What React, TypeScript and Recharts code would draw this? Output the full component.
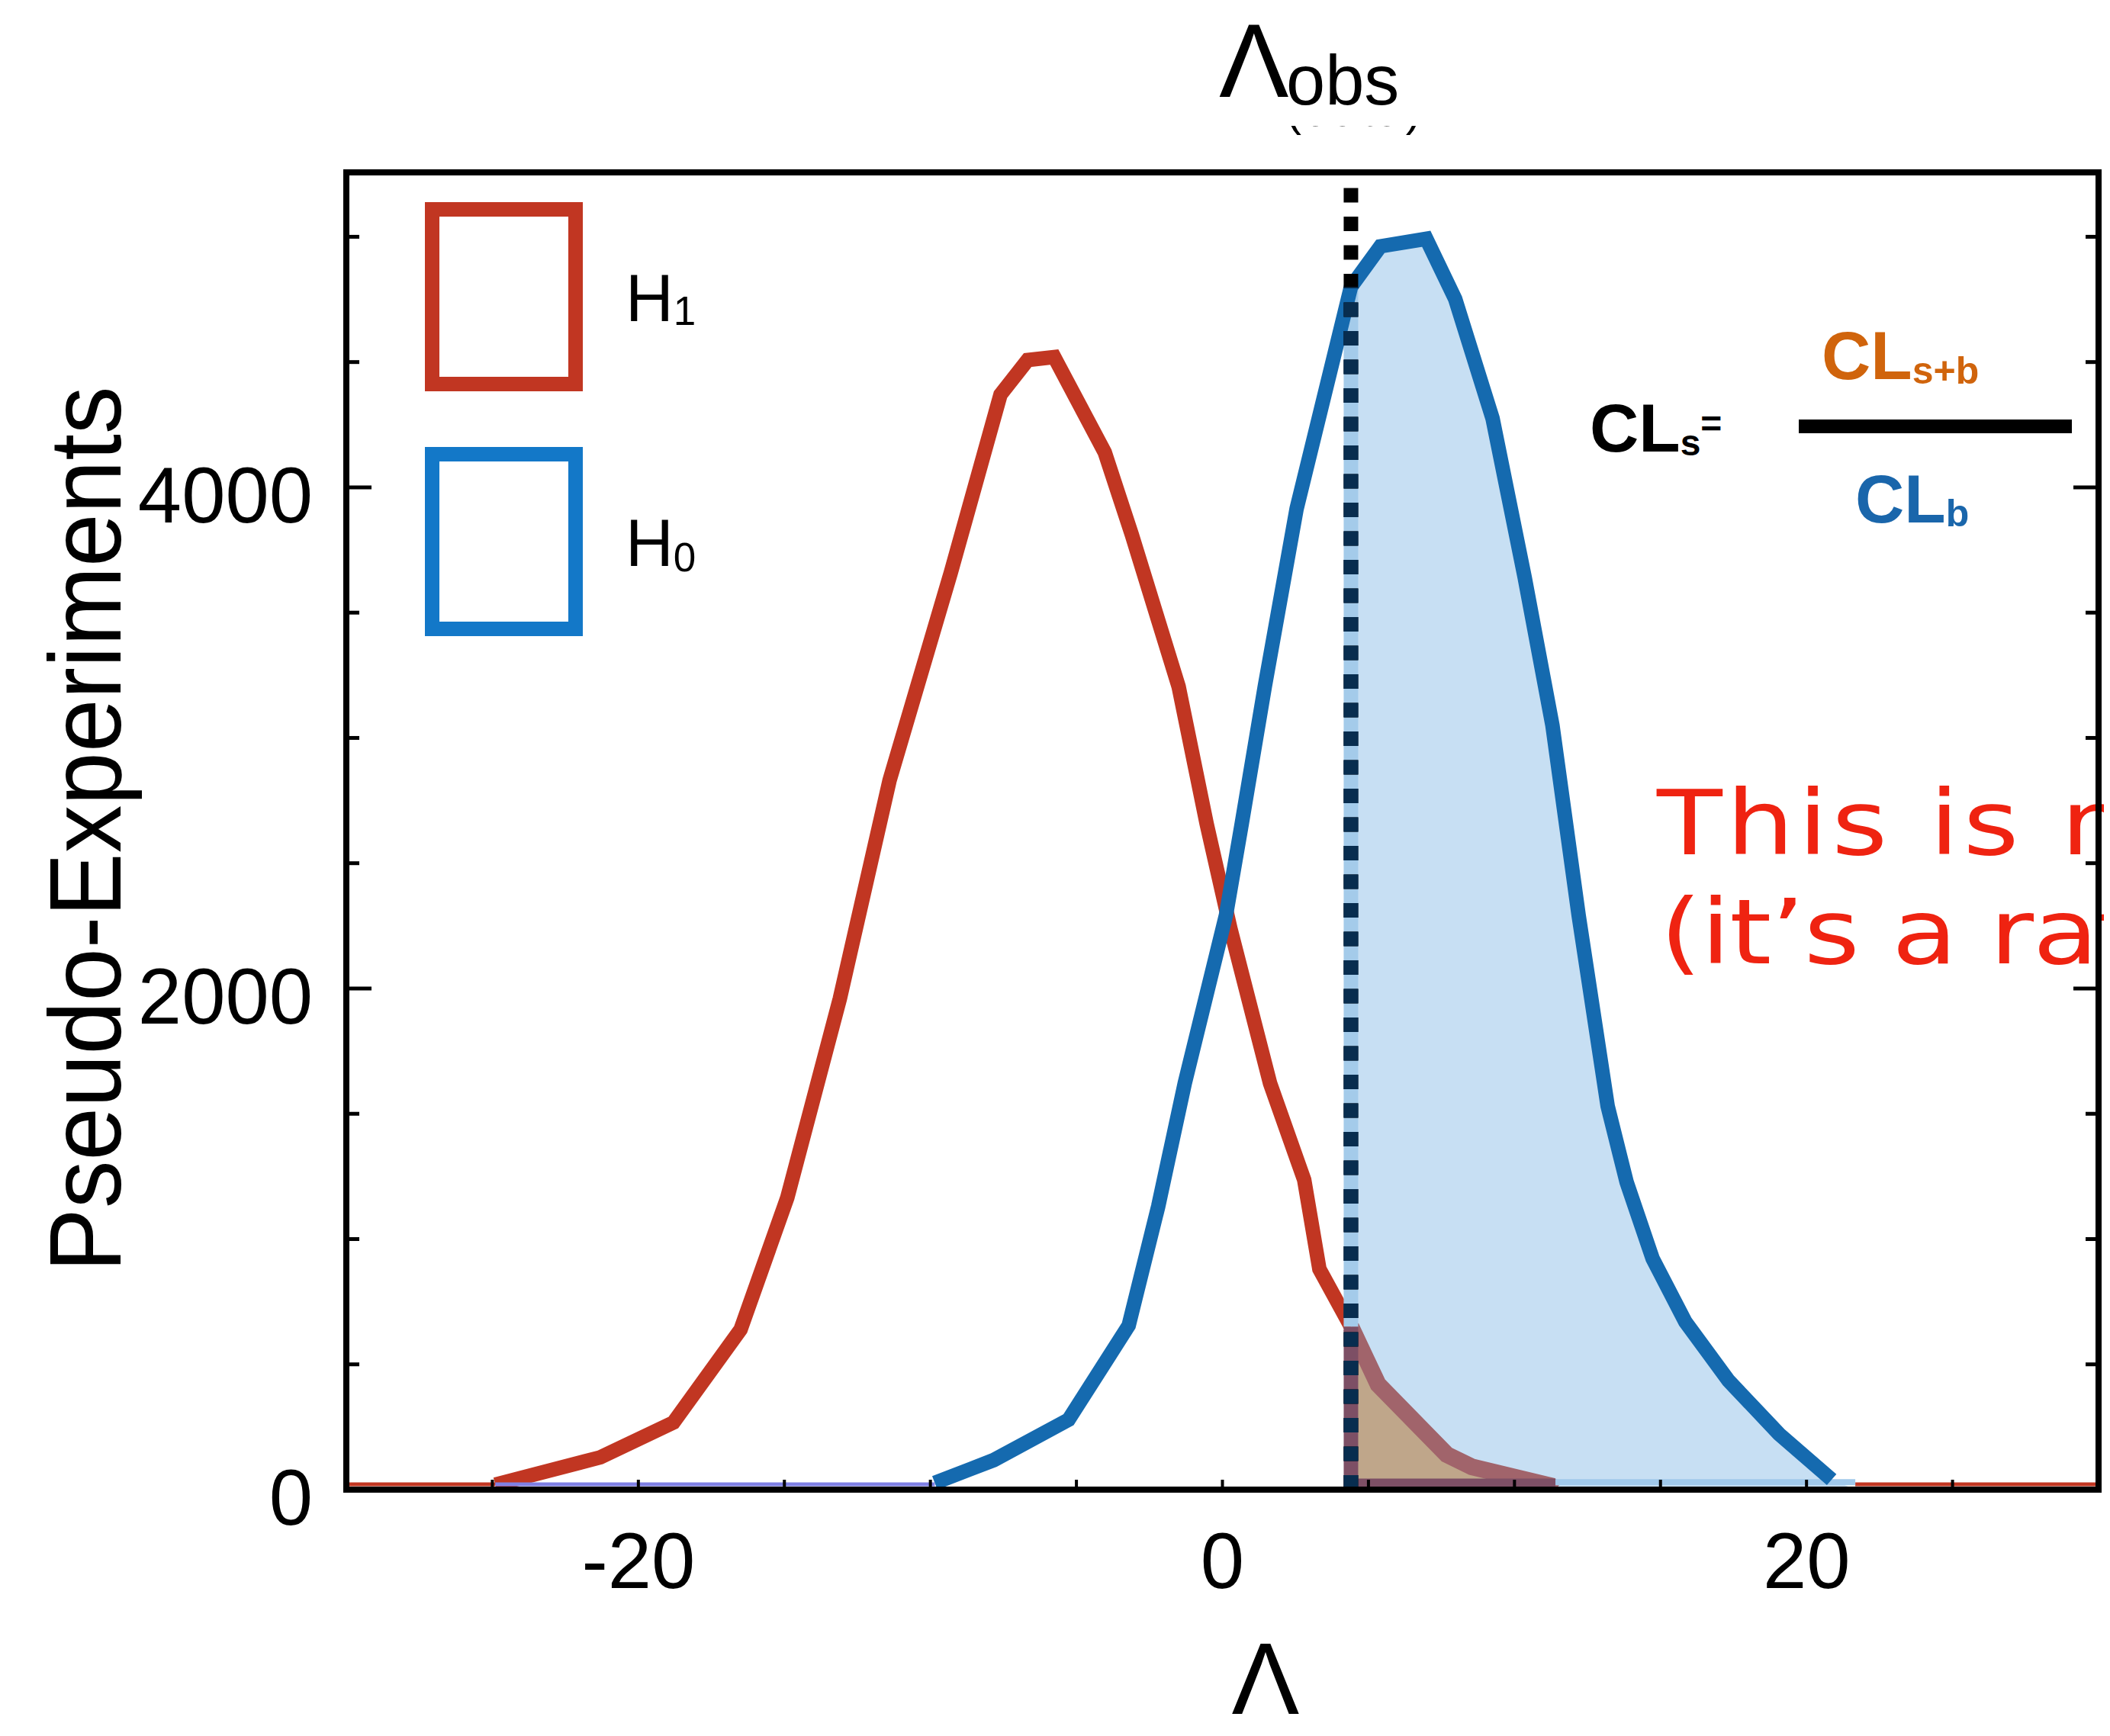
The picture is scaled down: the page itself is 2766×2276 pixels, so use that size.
import React from 'react';
import { ComposedChart, Area, Line, XAxis, YAxis, ReferenceLine, Legend } from 'recharts';

// ---------- data ----------
const LAMBDA_OBS = 4.4;
const X_DOMAIN: [number, number] = [-30, 30];
const Y_MAX = 5257;
const X_TICKS = [-25, -20, -15, -10, -5, 0, 5, 10, 15, 20, 25];
const X_TICK_LABELS = [-20, 0, 20];
const Y_TICKS = [0, 500, 1000, 1500, 2000, 2500, 3000, 3500, 4000, 4500, 5000];
const Y_TICK_LABELS = [0, 2000, 4000];

// H1 (signal + background) pseudo-experiment distribution
const H1_X = [-24.9, -21.3, -18.8, -16.5, -14.9, -13.1, -11.4, -9.3, -7.6, -6.67, -5.76, -4.03, -3.1, -1.5, -0.54, 0.27, 1.63, 2.8, 3.32, 4.4, 5.33, 7.68, 8.54, 11.25, 11.4];
const H1_Y = [20, 129, 268, 639, 1165, 1960, 2830, 3660, 4370, 4508, 4520, 4140, 3810, 3205, 2657, 2240, 1622, 1236, 880, 650, 420, 140, 91, 15, 0];

// H0 (background only) pseudo-experiment distribution
const H0_X = [-9.85, -7.83, -5.27, -3.21, -2.2, -1.29, 0.12, 0.66, 1.45, 2.54, 4.4, 5.41, 6.98, 7.97, 9.25, 10.35, 11.3, 12.2, 13.19, 13.84, 14.73, 15.85, 17.33, 19.06, 20.86];
const H0_Y = [27, 118, 279, 655, 1130, 1622, 2292, 2657, 3205, 3915, 4800, 4962, 4992, 4752, 4275, 3640, 3050, 2290, 1531, 1227, 922, 670, 435, 222, 40];

const CLB_END = 21.67; // where the CLb shading reaches zero
const H1_ZERO_LEFT = [-30, -24.9];
const H0_ZERO = [-24.9, -9.85];
const H1_ZERO_RIGHT = [21.67, 30];

const LEGEND_ITEMS = [
  { label: 'H', sub: '1', color: '#c13622' },
  { label: 'H', sub: '0', color: '#1378c8' },
];

// ---------- derived tables ----------
const h1 = H1_X.map((x, i) => ({ x, y: H1_Y[i] }));
const h0 = H0_X.map((x, i) => ({ x, y: H0_Y[i] }));
const clb = [...h0.filter((p) => p.x >= LAMBDA_OBS), { x: CLB_END, y: 0 }];
const clsb = h1.filter((p) => p.x >= LAMBDA_OBS);
const h1AtObs = (h1.find((p) => p.x === LAMBDA_OBS) || { y: 0 }).y;
const h0AtObs = (h0.find((p) => p.x === LAMBDA_OBS) || { y: 0 }).y;

const ZERO_LEVEL = 21; // visual offset so the zero-level lines sit on the axis
const BAND_LEVEL = 18;
const pair = (xs: number[], y: number) => xs.map((x) => ({ x, y }));

const clsbBottom = pair([LAMBDA_OBS, clsb[clsb.length - 1].x], BAND_LEVEL);
const clbBottom = pair([clsb[clsb.length - 1].x, CLB_END], 30);
const stripBlue = [{ x: LAMBDA_OBS, y: h1AtObs }, { x: LAMBDA_OBS, y: h0AtObs }];
const stripRed = [{ x: LAMBDA_OBS, y: 0 }, { x: LAMBDA_OBS, y: h1AtObs }];
const dotted = [{ x: LAMBDA_OBS, y: 0 }, { x: LAMBDA_OBS, y: Y_MAX }];
const dottedInFill = [{ x: LAMBDA_OBS, y: 0 }, { x: LAMBDA_OBS, y: h0AtObs }];

const FONT = '"Liberation Sans", Arial, Helvetica, sans-serif';
const RED = '#c13622';
const BLUE = '#156aaf';
const LINE_W = 19;

// ---------- ticks ----------
const BottomTick = (props: any) => {
  const { x, y, payload } = props;
  const v = payload.value;
  return (
    <g>
      <line x1={x} x2={x} y1={y} y2={y - 13} stroke="#000" strokeWidth={4} />
      {X_TICK_LABELS.includes(v) && (
        <text x={x} y={y + 129} textAnchor="middle" fontSize={103} fontFamily={FONT} fill="#000">
          {v}
        </text>
      )}
    </g>
  );
};

const LeftTick = (props: any) => {
  const { x, y, payload } = props;
  const v = payload.value;
  const major = Y_TICK_LABELS.includes(v);
  return (
    <g>
      <line x1={x} x2={x + (major ? 33 : 17)} y1={y} y2={y} stroke="#000" strokeWidth={5} />
      {major && (
        <text x={x - 44} y={y + 46} textAnchor="end" fontSize={103} fontFamily={FONT} fill="#000">
          {v}
        </text>
      )}
    </g>
  );
};

const RightTick = (props: any) => {
  const { x, y, payload } = props;
  const major = Y_TICK_LABELS.includes(payload.value);
  return <line x1={x} x2={x - (major ? 33 : 17)} y1={y} y2={y} stroke="#000" strokeWidth={5} />;
};

const LegendBoxes = () => (
  <svg width={440} height={610} viewBox="540 250 440 610" style={{ display: 'block' }}>
    {LEGEND_ITEMS.map((it, i) => (
      <g key={i}>
        <rect x={566.5} y={274.5 + i * 321} width={188} height={229} fill="none" stroke={it.color} strokeWidth={19} />
        <text x={820} y={421 + i * 321} fontSize={87} fontFamily={FONT} fill="#000">
          {it.label}
          <tspan fontSize={53} dy={i === 0 ? 5 : 7}>{it.sub}</tspan>
        </text>
      </g>
    ))}
  </svg>
);

const common = { isAnimationActive: false, dot: false, activeDot: false, legendType: 'none' as const, type: 'linear' as const, dataKey: 'y' };

export default function App() {
  return (
    <div style={{ position: 'relative', width: 2758, height: 2268, overflow: 'hidden', background: '#fff' }}>
      <svg
        width={2758}
        height={2268}
        viewBox="8 8 2758 2268"
        style={{ position: 'absolute', left: 0, top: 0 }}
      >
        {/* Lambda_obs label */}
        <text x={1598} y={127} fontSize={137} fontFamily={FONT} fill="#000">Λ</text>
        <text x={1686} y={137} fontSize={92} fontFamily={FONT} fill="#000">obs</text>
        <clipPath id="fragClip">
          <rect x={1680} y={165} width={200} height={14} />
        </clipPath>
        <text clipPath="url(#fragClip)" x={1686} y={165} fontSize={60} letterSpacing={4} fontFamily={FONT} fill="#000">(data)</text>

        {/* CLs formula */}
        <text x={2084} y={592} fontSize={89} fontWeight="bold" fontFamily={FONT} fill="#000">
          CL<tspan fontSize={48} dy={5}>s</tspan><tspan fontSize={48} dy={-25}>=</tspan>
        </text>
        <text x={2388} y={497} fontSize={89} fontWeight="bold" fontFamily={FONT} fill="#d0640c">
          CL<tspan fontSize={50} dy={6}>s+b</tspan>
        </text>
        <rect x={2358} y={550} width={358} height={18} fill="#000" />
        <text x={2432} y={685} fontSize={89} fontWeight="bold" fontFamily={FONT} fill="#1a66ab">
          CL<tspan fontSize={50} dy={5}>b</tspan>
        </text>

        {/* red remark */}
        <text transform="translate(2172,1120) scale(1.2,1)" fontSize={117} letterSpacing={4.3} fontFamily='"DejaVu Sans", sans-serif' fill="#ef2311">
          This is not a probability
        </text>
        <text transform="translate(2176,1263) scale(1.2,1)" fontSize={117} letterSpacing={-1} fontFamily='"DejaVu Sans", sans-serif' fill="#ef2311">
          (it’s a ratio of probabilities)
        </text>

        {/* axis titles */}
        <text
          transform="translate(158,1087) rotate(-90)"
          textAnchor="middle"
          fontSize={133}
          textLength={1161}
          lengthAdjust="spacingAndGlyphs"
          fontFamily={FONT}
          fill="#000"
        >
          Pseudo-Experiments
        </text>
        <text x={1659} y={2247} textAnchor="middle" fontSize={133} fontFamily={FONT} fill="#000">Λ</text>
      </svg>

      <ComposedChart width={2758} height={2268} margin={{ top: 218, right: 5, bottom: 0, left: 0 }}>
        <XAxis
          dataKey="x"
          type="number"
          domain={X_DOMAIN}
          allowDataOverflow
          ticks={X_TICKS}
          interval={0}
          height={323}
          tickSize={0}
          tickMargin={0}
          tickLine={false}
          axisLine={{ stroke: '#000', strokeWidth: 8, strokeLinecap: 'square' }}
          tick={<BottomTick />}
        />
        <YAxis
          type="number"
          domain={[0, Y_MAX]}
          allowDataOverflow
          ticks={Y_TICKS}
          interval={0}
          width={446}
          tickSize={0}
          tickMargin={0}
          tickLine={false}
          axisLine={{ stroke: '#000', strokeWidth: 8, strokeLinecap: 'square' }}
          tick={<LeftTick />}
        />
        <YAxis
          yAxisId="right"
          orientation="right"
          type="number"
          domain={[0, Y_MAX]}
          allowDataOverflow
          ticks={Y_TICKS}
          interval={0}
          width={10}
          tickSize={0}
          tickMargin={0}
          tickLine={false}
          axisLine={{ stroke: '#000', strokeWidth: 8, strokeLinecap: 'square' }}
          tick={<RightTick />}
        />
        <ReferenceLine y={Y_MAX} stroke="#000" strokeWidth={8} ifOverflow="visible" />

        {/* H1 curve (under the CLb shading) */}
        <Area {...common} data={h1} stroke={RED} strokeWidth={LINE_W} fill="none" />
        {/* CLb shading */}
        <Area {...common} data={clb} stroke="none" fill="#c7dff3" fillOpacity={1} />
        {/* CLs+b shading */}
        <Area {...common} data={clsb} stroke="#a1646b" strokeWidth={22} fill="#bfa68a" fillOpacity={1} />

        {/* zero-level histogram segments */}
        <Line {...common} data={pair(H1_ZERO_LEFT, ZERO_LEVEL)} stroke={RED} strokeWidth={5} />
        <Line {...common} data={pair(H0_ZERO, ZERO_LEVEL)} stroke="#7f80e4" strokeWidth={5} />
        <Line {...common} data={pair(H1_ZERO_RIGHT, ZERO_LEVEL)} stroke={RED} strokeWidth={5} />

        <Line {...common} data={clbBottom} stroke="#a0c8ea" strokeWidth={8} />
        <Line {...common} data={clsbBottom} stroke="#7d4f65" strokeWidth={17} />
        <Line {...common} data={stripBlue} stroke="#a4cbea" strokeWidth={19} />
        <Line {...common} data={stripRed} stroke="#7d4f65" strokeWidth={19} />

        {/* H0 curve */}
        <Line {...common} data={h0} stroke={BLUE} strokeWidth={LINE_W} />

        {/* observed value */}
        <Line {...common} data={dotted} stroke="#000" strokeWidth={19} strokeDasharray="19 18.5" />
        <Line {...common} data={dottedInFill} stroke="#082d4f" strokeWidth={19} strokeDasharray="19 18.5" />

        <Legend
          layout="vertical"
          align="center"
          verticalAlign="middle"
          wrapperStyle={{ left: 532, top: 242, width: 440, height: 610 }}
          content={() => <LegendBoxes />}
        />
      </ComposedChart>
    </div>
  );
}
